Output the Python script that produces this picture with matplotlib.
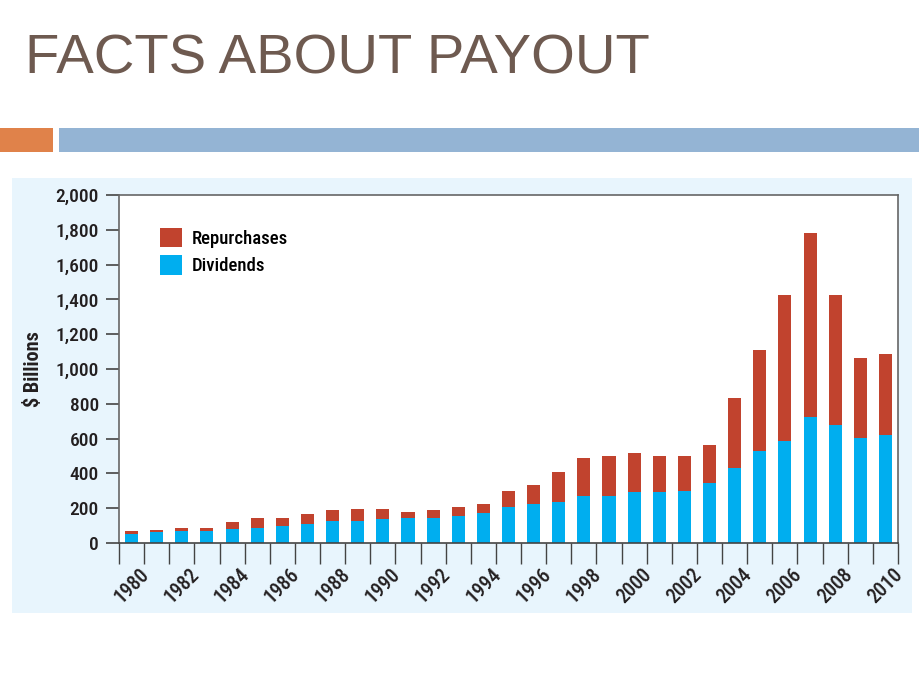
import matplotlib
matplotlib.use("Agg")
import matplotlib.pyplot as plt
from matplotlib.patches import Rectangle, Patch
import numpy as np

years = list(range(1980, 2011))
dividends = [50, 65, 69, 71, 82, 88, 98, 109, 128, 128, 136, 144, 144, 157, 174, 207,
             226, 236, 272, 272, 293, 293, 299, 345, 431, 529, 586, 726, 680, 602, 621]
totals = [69, 75, 88, 88, 121, 142, 142, 167, 188, 194, 194, 180, 188, 207, 226, 299,
          332, 410, 489, 502, 515, 502, 502, 561, 835, 1111, 1425, 1780, 1425, 1065, 1086]
repurchases = [t - d for t, d in zip(totals, dividends)]
y_ticks = [0, 200, 400, 600, 800, 1000, 1200, 1400, 1600, 1800, 2000]
y_tick_labels = ["0", "200", "400", "600", "800", "1,000", "1,200", "1,400", "1,600", "1,800", "2,000"]
x_label_years = list(range(1980, 2011, 2))

RED = "#c1432e"
BLUE = "#00aeef"
NARROW = ["Roboto Condensed", "Liberation Sans Narrow", "Liberation Sans", "DejaVu Sans"]

W, H = 920, 690
fig = plt.figure(figsize=(W / 100, H / 100), dpi=100)
fig.patch.set_facecolor("white")

def fx(px):
    return px / W

def fy(py):
    return 1 - py / H

# Title
fig.text(fx(25), fy(60), "FACTS ABOUT PAYOUT", fontsize=40.5, color="#6e5a50",
         family=["Liberation Sans", "DejaVu Sans"], ha="left", va="center")

# Header bars
fig.patches.append(Rectangle((fx(0), fy(152)), fx(53), 24 / H, transform=fig.transFigure,
                             facecolor="#e0824a", edgecolor="none", zorder=-1))
fig.patches.append(Rectangle((fx(59), fy(152)), fx(861), 24 / H, transform=fig.transFigure,
                             facecolor="#94b4d4", edgecolor="none", zorder=-1))
# Light blue panel
fig.patches.append(Rectangle((fx(12), fy(613)), fx(900), 435 / H, transform=fig.transFigure,
                             facecolor="#e8f5fd", edgecolor="none", zorder=-1))

ax = fig.add_axes([fx(119), fy(543), fx(779), 348 / H])
ax.set_zorder(2)
ax.set_facecolor("white")
x = np.arange(len(years))
ax.bar(x, dividends, width=0.52, color=BLUE, label="Dividends", zorder=2)
ax.bar(x, repurchases, bottom=dividends, width=0.52, color=RED, label="Repurchases", zorder=2)

ax.set_xlim(-0.5, len(years) - 0.5)
ax.set_ylim(0, 2000)
ax.set_yticks(y_ticks)
ax.set_yticklabels(y_tick_labels, family=NARROW, fontsize=14, color="#231f20",
                   fontweight="medium")
ax.set_xticks(np.arange(-0.5, len(years), 1.0))
ax.set_xticklabels([])
ax.tick_params(axis="y", direction="out", length=9.5, width=1.2, color="#444444", pad=5)
ax.tick_params(axis="x", direction="out", length=15, width=1.0, color="#444444")
for s in ax.spines.values():
    s.set_color("#666666")
    s.set_linewidth(1.2)
ax.spines["bottom"].set_color("#444444")

for yr in x_label_years:
    i = years.index(yr)
    ax.text(i, -0.124, str(yr), transform=ax.get_xaxis_transform(), rotation=45,
            ha="center", va="center", family=NARROW, fontsize=14.5, color="#231f20",
            fontweight="medium")

ax.set_ylabel("$ Billions", family=NARROW, fontsize=14.5, fontweight="bold",
              color="#231f20")
ax.yaxis.set_label_coords(-0.097, 0.5)

handles = [Patch(facecolor=RED, edgecolor="none", label="Repurchases"),
           Patch(facecolor=BLUE, edgecolor="none", label="Dividends")]
ax.legend(handles=handles, loc="upper left", bbox_to_anchor=(0.0526, 0.905),
          frameon=False, borderpad=0, borderaxespad=0, handlelength=1.15,
          handleheight=1.2, handletextpad=0.55, labelspacing=0.4,
          prop={"family": NARROW, "size": 13.5, "weight": "medium"})

fig.savefig("out.png", dpi=100)
